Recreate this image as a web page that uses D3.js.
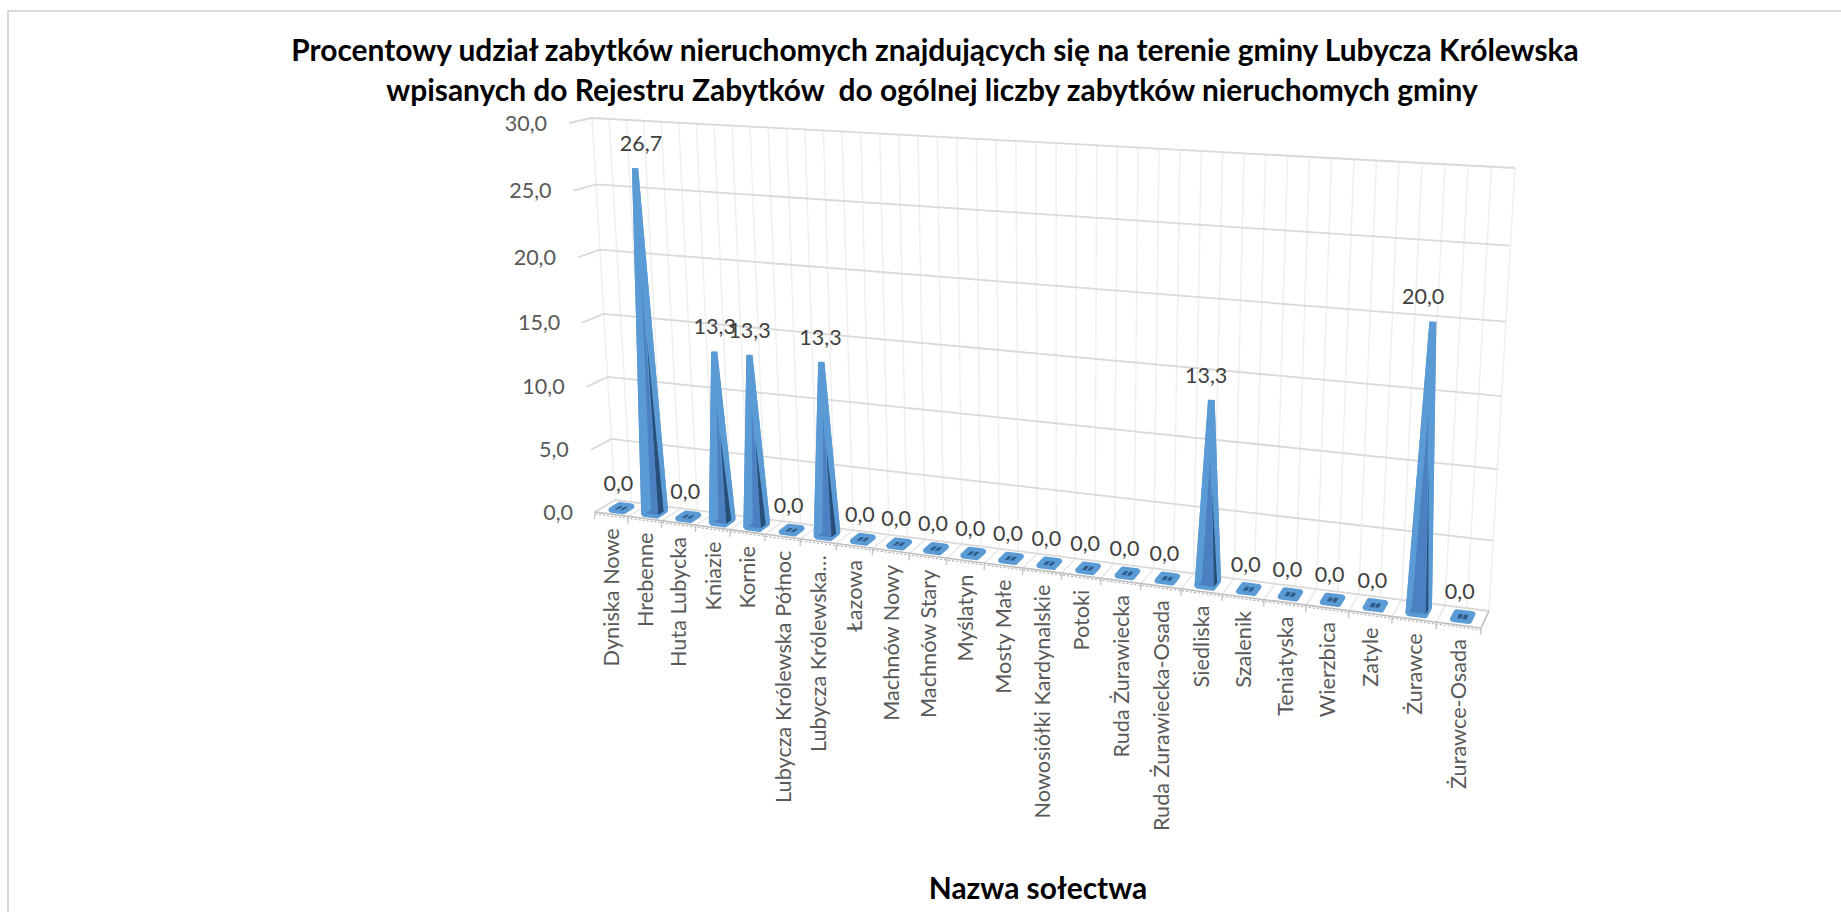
<!DOCTYPE html>
<html>
<head>
<meta charset="utf-8">
<script src="https://d3js.org/d3.v7.min.js"></script>
<style>
    html, body { margin: 0; padding: 0; background: #fff; overflow: hidden; }
    text { font-family: Lato, "Noto Sans", sans-serif; white-space: pre; }
</style>
</head>
<body>
<svg id="chart" width="1841" height="912"></svg>
<script>
const categories = ['Dyniska Nowe', 'Hrebenne', 'Huta Lubycka', 'Kniazie', 'Kornie', 'Lubycza Królewska Północ',
    'Lubycza Królewska…', 'Łazowa', 'Machnów Nowy', 'Machnów Stary', 'Myślatyn', 'Mosty Małe',
    'Nowosiółki Kardynalskie', 'Potoki', 'Ruda Żurawiecka', 'Ruda Żurawiecka-Osada', 'Siedliska', 'Szalenik',
    'Teniatyska', 'Wierzbica', 'Zatyle', 'Żurawce', 'Żurawce-Osada'];
const values = [0, 26.7, 0, 13.3, 13.3, 0, 13.3, 0, 0, 0, 0, 0, 0, 0, 0, 0, 13.3, 0, 0, 0, 0, 20, 0];
const yTicks = [0, 5, 10, 15, 20, 25, 30];
const titleLines = ['Procentowy udział zabytków nieruchomych znajdujących się na terenie gminy Lubycza Królewska',
    'wpisanych do Rejestru Zabytków  do ogólnej liczby zabytków nieruchomych gminy'];
const axisTitle = 'Nazwa sołectwa';

const fmt = v => v.toFixed(1).replace('.', ',');

let svg = d3.select('#chart');

// 3D box of the chart: corners of the back wall and of the front plane [bl, br, tr, tl]
const backQuad = [[615, 500], [1489, 611], [1515, 168], [592, 118]];
const frontQuad = [[595, 512], [1481, 628], [1507, 177], [569, 123]];

// unit square -> quad
function homography(q) {
    let [x0, y0] = q[0], [x1, y1] = q[1], [x2, y2] = q[2], [x3, y3] = q[3];
    let dx1 = x1 - x2, dx2 = x3 - x2, dx3 = x0 - x1 + x2 - x3,
        dy1 = y1 - y2, dy2 = y3 - y2, dy3 = y0 - y1 + y2 - y3,
        den = dx1 * dy2 - dx2 * dy1,
        g = (dx3 * dy2 - dx2 * dy3) / den,
        h = (dx1 * dy3 - dx3 * dy1) / den,
        a = x1 - x0 + g * x1, b = x3 - x0 + h * x3,
        d = y1 - y0 + g * y1, e = y3 - y0 + h * y3;
    return (u, v) => {
        let w = g * u + h * v + 1;
        return [(a * u + b * v + x0) / w, (d * u + e * v + y0) / w];
    };
}
const hBack = homography(backQuad), hFront = homography(frontQuad);

// u along the categories, v up the value axis, d from front (0) to back (1)
function project(u, v, d) {
    let b = hBack(u, v), f = hFront(u, v);
    return [f[0] + (b[0] - f[0]) * d, f[1] + (b[1] - f[1]) * d];
}

const xBand = d3.scaleBand().domain(categories).range([0, 1]);
const yScale = d3.scaleLinear().domain([0, 30]).range([0, 1]);
const band = xBand.bandwidth();
const center = c => xBand(c) + band / 2;
const poly = pts => 'M' + pts.map(p => p.join(',')).join('L') + 'Z';

// outer chart border
svg.append('path').attr('d', 'M1841,11H8V912').attr('fill', 'none').attr('stroke', '#d9d9d9').attr('stroke-width', 2);

// title
svg.append('g').selectAll('text').data(titleLines).join('text')
    .attr('x', (d, i) => 935 - i * 3).attr('y', (d, i) => 61 + i * 40)
    .attr('text-anchor', 'middle').attr('font-size', 29.9).attr('font-weight', 700).attr('fill', '#000')
    .text(d => d);
svg.append('text').attr('x', 1038).attr('y', 899).attr('text-anchor', 'middle')
    .attr('font-size', 29.9).attr('font-weight', 700).attr('fill', '#000').text(axisTitle);

// vertical gridlines on back wall and cross lines on the floor
let grid = svg.append('g').attr('fill', 'none');
let halfSteps = d3.range(categories.length * 2 + 1).map(i => i / (categories.length * 2));
grid.selectAll('.wall').data(halfSteps).join('path').attr('class', 'wall')
    .attr('d', u => 'M' + project(u, 0, 1) + 'L' + project(u, 1, 1))
    .attr('stroke', '#efefef').attr('stroke-width', 1.5);
grid.selectAll('.floor').data(xBand.domain().map(xBand).concat(1)).join('path').attr('class', 'floor')
    .attr('d', u => 'M' + project(u, 0, 1) + 'L' + project(u, 0, 0))
    .attr('stroke', '#e8e8e8').attr('stroke-width', 1.5);

// value gridlines with the stub on the left wall
grid.selectAll('.hline').data(yTicks).join('path').attr('class', 'hline')
    .attr('d', t => {
        let v = yScale(t);
        return 'M' + project(0, v, 0) + 'L' + project(0, v, 1) + 'L' + project(1, v, 1);
    })
    .attr('stroke', '#d9d9d9').attr('stroke-width', 1.8);
grid.append('path')
    .attr('d', 'M' + project(1, 0, 1) + 'L' + project(1, 0, 0))
    .attr('stroke', '#bfbfbf').attr('stroke-width', 1.5);

// front edge of the floor: dashed slab with ticks
let edge = 'M' + project(0, 0, 0) + 'L' + project(1, 0, 0);
grid.append('path').attr('d', edge).attr('stroke', '#bdbdbd').attr('stroke-width', 1.5);
grid.append('path').attr('d', edge).attr('transform', 'translate(0,2)')
    .attr('stroke', '#a6a6a6').attr('stroke-width', 1).attr('stroke-dasharray', '2 2');
grid.selectAll('.tick').data(xBand.domain().map(xBand).concat(1)).join('path').attr('class', 'tick')
    .attr('d', u => {
        let p = project(u, 0, 0);
        return 'M' + p + 'L' + [p[0] - 0.5, p[1] + 7];
    })
    .attr('stroke', '#c8c8c8').attr('stroke-width', 1.5);

// y tick labels
svg.append('g').selectAll('text').data(yTicks).join('text')
    .attr('x', t => project(0, yScale(t), 0)[0] - 22)
    .attr('y', t => project(0, yScale(t), 0)[1])
    .attr('dy', '0.35em').attr('text-anchor', 'end')
    .attr('font-size', 21.5).attr('fill', '#595959')
    .text(fmt);

// category labels
svg.append('g').selectAll('text').data(categories).join('text')
    .attr('transform', c => {
        let p = project(center(c), 0, 0);
        return `translate(${p[0]},${p[1] + 14}) rotate(-90)`;
    })
    .attr('dy', '0.35em').attr('text-anchor', 'end')
    .attr('font-size', 21.7).attr('fill', '#595959')
    .text(c => c);

// pyramids, one group per category
const baseU = 0.18, baseD = 0.2, topU = 0.07, topD = 0.03;
function corners(c, v, fu, fd) {
    let u = center(c);
    return [project(u - band * fu, v, 0.5 - fd), project(u + band * fu, v, 0.5 - fd),
        project(u + band * fu, v, 0.5 + fd), project(u - band * fu, v, 0.5 + fd)];
}
let marks = svg.append('g').selectAll('g').data(categories).join('g');
marks.each(function (c, i) {
    let g = d3.select(this), val = values[i], v = yScale(val);
    let base = corners(c, 0, baseU, baseD);
    g.append('path').attr('d', poly(base)).attr('fill', '#5b9bd5')
        .attr('stroke', '#5b9bd5').attr('stroke-width', 6).attr('stroke-linejoin', 'round');
    if (val === 0) {
        // empty column: only the two dark dots in the middle of the base
        [-2.6, 2.6].forEach(off => {
            let q = corners(c, 0, 0.045, 0.13).map(p => [p[0] + off, p[1] + off * 0.12]);
            g.append('path').attr('d', poly(q)).attr('fill', '#2f5a88');
        });
        return;
    }
    let top = corners(c, v, topU, topD);
    // outer light faces, widened by the same rounding as the base
    let wide = corners(c, 0, baseU + 0.07, baseD + 0.06);
    [[0, 1], [1, 2], [2, 3], [3, 0]].forEach(e => {
        g.append('path').attr('fill', '#5b9bd5')
            .attr('d', poly([wide[e[0]], wide[e[1]], top[e[1]], top[e[0]]]));
    });
    // inner darker cone, shorter than the column
    let inner = corners(c, 0, 0.19, 0.14);
    let apex = project(center(c), v * 0.7, 0.5);
    let apexDark = project(center(c) + band * 0.06, v * 0.52, 0.5);
    g.append('path').attr('fill', '#4b80c2').attr('d', poly([inner[3], inner[0], inner[1], apex]));
    g.append('path').attr('fill', '#274f7a').attr('d', poly([inner[1], inner[2], apexDark]));
});

// data labels
svg.append('g').selectAll('text').data(categories).join('text')
    .attr('x', (c, i) => project(center(c), yScale(values[i]), 0.5)[0] - 3 + 0.77 * (0.5 - center(c)) * values[i])
    .attr('y', (c, i) => project(center(c), yScale(values[i]), 0.5)[1] - 25)
    .attr('dy', '0.35em').attr('text-anchor', 'middle')
    .attr('font-size', 21.5).attr('fill', '#404040')
    .text((c, i) => fmt(values[i]));
</script>
</body>
</html>
